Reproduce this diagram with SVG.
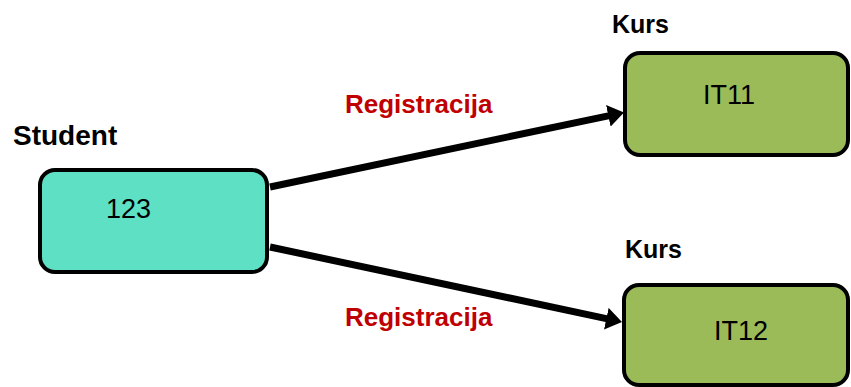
<svg xmlns="http://www.w3.org/2000/svg" width="851" height="387" viewBox="0 0 851 387">
  <defs>
    <style>
      .box { stroke: #000; stroke-width: 4; }
      .student { fill: #5DE0C4; }
      .kurs { fill: #9BBB59; }
      .title { font-family: "Liberation Sans", Arial, sans-serif; font-weight: bold; fill: #000; }
      .val { font-family: "Liberation Sans", Arial, sans-serif; font-size: 27px; fill: #000; }
      .rel { font-family: "Liberation Sans", Arial, sans-serif; font-weight: bold; font-size: 26px; fill: #C00000; }
      .conn { stroke: #000; stroke-width: 7; fill: none; }
    </style>
    <marker id="arrow" markerUnits="userSpaceOnUse" markerWidth="18" markerHeight="22" refX="6" refY="11" orient="auto">
      <polygon points="0,0 16,11 0,22" fill="#000"/>
    </marker>
  </defs>
  <rect width="851" height="387" fill="#fff"/>

  <g id="connectors">
    <line class="conn" x1="270" y1="187" x2="614.2" y2="114.6" marker-end="url(#arrow)"/>
    <line class="conn" x1="270" y1="247" x2="612.2" y2="319.9" marker-end="url(#arrow)"/>
    <text class="rel" x="345" y="113">Registracija</text>
    <text class="rel" x="345" y="326">Registracija</text>
  </g>

  <g id="student">
    <text class="title" x="13" y="145" font-size="28">Student</text>
    <rect class="box student" x="40" y="170" width="227" height="102" rx="15"/>
    <text class="val" x="106" y="218" font-size="28">123</text>
  </g>

  <g id="kurs1">
    <text class="title" x="612" y="33" font-size="25">Kurs</text>
    <rect class="box kurs" x="625" y="53" width="223" height="102" rx="15"/>
    <text class="val" x="703" y="104">IT11</text>
  </g>

  <g id="kurs2">
    <text class="title" x="625" y="258" font-size="25">Kurs</text>
    <rect class="box kurs" x="624" y="285" width="224" height="100" rx="15"/>
    <text class="val" x="714" y="340">IT12</text>
  </g>
</svg>
